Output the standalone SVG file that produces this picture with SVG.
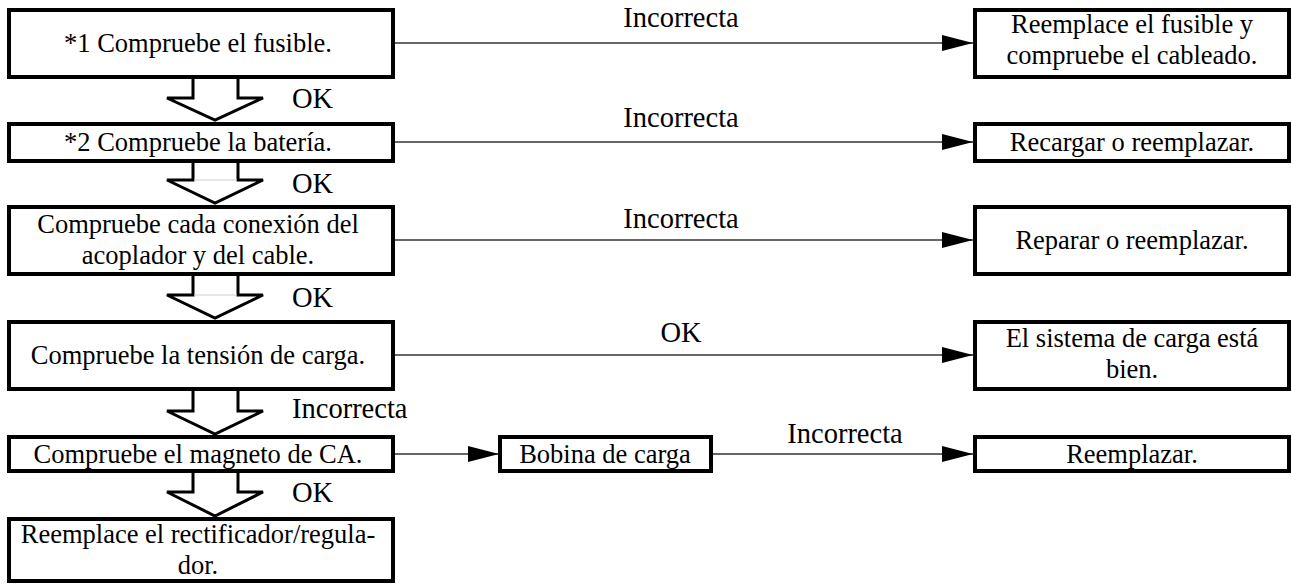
<svg xmlns="http://www.w3.org/2000/svg" width="1292" height="587" viewBox="0 0 1292 587">
<style>
.box{fill:#fff;stroke:#000;stroke-width:4}
.t{font-family:"Liberation Serif","Times New Roman",serif;font-size:26.5px;fill:#000;text-anchor:middle}
.lbl{font-family:"Liberation Serif","Times New Roman",serif;font-size:28.5px;fill:#000}
.conn{stroke:#333;stroke-width:1.6;fill:none}
.blk{fill:#fff;stroke:#000;stroke-width:3;stroke-linejoin:miter}
.seam{stroke:#ccc;stroke-width:1}
</style>
<defs>
<marker id="ah" markerUnits="userSpaceOnUse" markerWidth="32" markerHeight="17" refX="31" refY="8" orient="auto">
<path d="M0,0 L31,8 L0,16 z" fill="#000"/>
</marker>
</defs>
<rect width="1292" height="587" fill="#fff"/>
<g id="connectors">
<line class="conn" x1="395" y1="43" x2="973" y2="43" marker-end="url(#ah)"/>
<line class="conn" x1="395" y1="142" x2="973" y2="142" marker-end="url(#ah)"/>
<line class="conn" x1="395" y1="240" x2="973" y2="240" marker-end="url(#ah)"/>
<line class="conn" x1="395" y1="355" x2="973" y2="355" marker-end="url(#ah)"/>
<line class="conn" x1="395" y1="454" x2="499" y2="454" marker-end="url(#ah)"/>
<line class="conn" x1="712" y1="454" x2="973" y2="454" marker-end="url(#ah)"/>
<path class="blk" d="M193,78 V98 H167 L215,120 L263,98 H238 V78"/>
<path class="blk" d="M193,162 V180 H167 L215,203 L263,180 H238 V162"/>
<line class="seam" x1="194" y1="180" x2="237" y2="180"/>
<path class="blk" d="M193,275 V295 H167 L215,318 L263,295 H238 V275"/>
<line class="seam" x1="194" y1="295" x2="237" y2="295"/>
<path class="blk" d="M193,390 V411 H167 L215,434 L263,411 H238 V390"/>
<path class="blk" d="M193,472 V492 H167 L215,516 L263,492 H238 V472"/>
<text class="lbl" x="681" y="27" text-anchor="middle">Incorrecta</text>
<text class="lbl" x="681" y="127" text-anchor="middle">Incorrecta</text>
<text class="lbl" x="681" y="228" text-anchor="middle">Incorrecta</text>
<text class="lbl" x="681" y="342" text-anchor="middle">OK</text>
<text class="lbl" x="845" y="443" text-anchor="middle">Incorrecta</text>
<text class="lbl" x="292" y="108">OK</text>
<text class="lbl" x="292" y="193">OK</text>
<text class="lbl" x="292" y="307">OK</text>
<text class="lbl" x="292" y="418">Incorrecta</text>
<text class="lbl" x="292" y="502">OK</text>
</g>
<g id="n1"><rect class="box" x="9" y="10" width="384" height="67"/><text class="t" x="198" y="52">*1 Compruebe el fusible.</text></g>
<g id="n2"><rect class="box" x="9" y="124" width="384" height="37"/><text class="t" x="198" y="151">*2 Compruebe la batería.</text></g>
<g id="n3"><rect class="box" x="9" y="207" width="384" height="67"/><text class="t" x="198" y="233">Compruebe cada conexión del</text><text class="t" x="198" y="264">acoplador y del cable.</text></g>
<g id="n4"><rect class="box" x="9" y="322" width="384" height="67"/><text class="t" x="198" y="364">Compruebe la tensión de carga.</text></g>
<g id="n5"><rect class="box" x="9" y="437" width="384" height="34"/><text class="t" x="198" y="463">Compruebe el magneto de CA.</text></g>
<g id="n6"><rect class="box" x="9" y="519" width="384" height="62"/><text class="t" x="198" y="543">Reemplace el rectificador/regula-</text><text class="t" x="198" y="574">dor.</text></g>
<g id="r1"><rect class="box" x="975" y="10" width="314" height="67"/><text class="t" x="1132" y="33">Reemplace el fusible y</text><text class="t" x="1132" y="64">compruebe el cableado.</text></g>
<g id="r2"><rect class="box" x="975" y="124" width="314" height="37"/><text class="t" x="1132" y="151">Recargar o reemplazar.</text></g>
<g id="r3"><rect class="box" x="975" y="207" width="314" height="67"/><text class="t" x="1132" y="249">Reparar o reemplazar.</text></g>
<g id="r4"><rect class="box" x="975" y="322" width="314" height="67"/><text class="t" x="1132" y="347">El sistema de carga está</text><text class="t" x="1132" y="378">bien.</text></g>
<g id="r5"><rect class="box" x="975" y="437" width="314" height="34"/><text class="t" x="1132" y="463">Reemplazar.</text></g>
<g id="b1"><rect class="box" x="500" y="437" width="211" height="34"/><text class="t" x="605" y="463">Bobina de carga</text></g>
</svg>
